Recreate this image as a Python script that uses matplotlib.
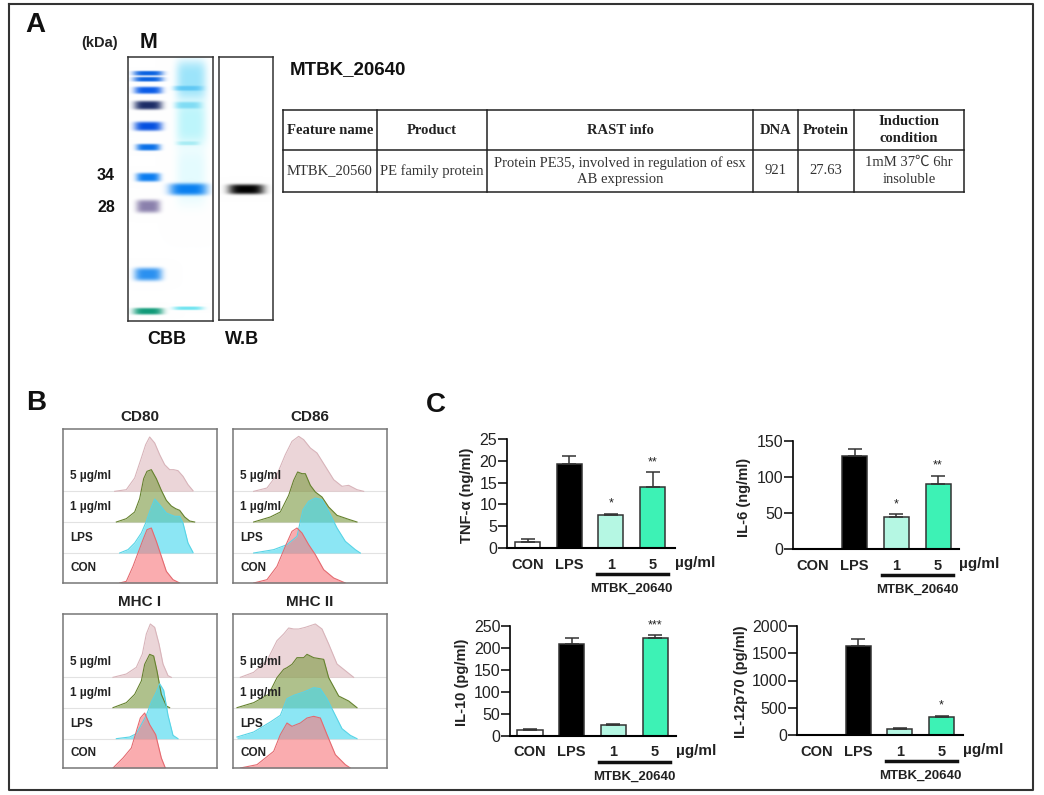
import numpy as np
import matplotlib
matplotlib.use('Agg')
import matplotlib.pyplot as plt

W, H = 1044, 795
plt.rcParams['font.family'] = ['Liberation Sans']

# gel bands: y pixel in the picture
marker_y = [73, 79, 90, 105, 126, 147, 177, 206, 274, 311]
marker_hw = [15, 15, 14, 14, 14, 12, 12, 12, 14, 15]
marker_hh = [2.4, 2.4, 3.6, 4.4, 4.6, 3.4, 4.4, 6.5, 6.5, 3.4]
marker_col = ['#0a62e0', '#0a62e0', '#0a5ce8', '#1c2c66', '#0550e0', '#0a70e8',
              '#0a7cf0', '#8a80ac', '#2a90f0', '#109a78']
sample_y = [189, 88, 105, 143, 308]
sample_hw = [19, 14, 13, 11, 15]
sample_hh = [6.0, 2.5, 3.5, 2.0, 1.8]
sample_col = ['#0a80f0', '#60c8f4', '#80dcf4', '#a8ecf4', '#70e4f0']
smear_y = [(60, 100), (100, 145), (145, 205)]
smear_col = ['#9ce4fa', '#bdf5fb', '#e4fbfe']

# table
table_cols = [283, 377, 487, 753, 798, 854, 964]
table_rows = [110, 150, 192]
table_head = ['Feature name', 'Product', 'RAST info', 'DNA', 'Protein', 'Induction\ncondition']
table_body = ['MTBK_20560', 'PE family protein',
              'Protein PE35, involved in regulation of esx\nAB expression',
              '921', '27.63', '1mM 37℃ 6hr\ninsoluble']

# flow histograms, read as (x, height) from the picture
cd80_5 = ([285, 320, 345, 365, 378, 390, 405, 420, 435, 450, 462, 475, 490, 505, 520],
          [0, 5, 40, 100, 140, 163, 145, 110, 80, 65, 65, 62, 45, 20, 2])
cd80_1 = ([290, 320, 345, 360, 372, 382, 395, 410, 425, 440, 455, 468, 480, 495, 510, 525],
          [0, 10, 30, 70, 130, 152, 157, 130, 95, 65, 48, 40, 35, 15, 3, 0])
cd80_lps = ([300, 325, 345, 365, 378, 392, 405, 420, 440, 465, 480, 490, 505, 520],
            [0, 10, 30, 60, 90, 130, 162, 145, 120, 110, 110, 90, 30, 2])
cd80_con = ([300, 320, 340, 355, 370, 382, 395, 410, 425, 440, 460, 480],
            [0, 5, 50, 90, 130, 160, 165, 125, 80, 35, 10, 0])
cd86_5 = ([700, 740, 770, 795, 815, 835, 850, 870, 890, 915, 940, 965, 985, 1010, 1030],
          [0, 10, 50, 110, 150, 165, 155, 130, 115, 75, 35, 15, 18, 5, 0])
cd86_1 = ([700, 750, 780, 805, 820, 832, 845, 855, 870, 885, 905, 925, 950, 985, 1010],
          [0, 15, 30, 80, 125, 150, 145, 145, 110, 90, 75, 45, 20, 8, 0])
cd86_lps = ([700, 760, 800, 830, 848, 865, 885, 905, 925, 950, 975, 1005, 1020],
            [0, 10, 25, 50, 130, 155, 165, 160, 125, 75, 35, 10, 0])
cd86_con = ([700, 740, 770, 795, 815, 830, 845, 865, 885, 910, 940, 975],
            [0, 10, 50, 110, 155, 165, 150, 115, 85, 40, 15, 0])
mhc1_5 = ([280, 320, 350, 368, 380, 392, 405, 418, 430, 445, 455],
          [0, 10, 30, 70, 130, 160, 150, 100, 40, 5, 0])
mhc1_1 = ([280, 320, 345, 365, 375, 390, 402, 412, 425, 440, 450],
          [0, 15, 40, 80, 130, 160, 155, 110, 40, 5, 0])
mhc1_lps = ([290, 330, 350, 380, 395, 410, 420, 432, 445, 460, 475],
            [0, 5, 15, 70, 110, 140, 165, 145, 70, 10, 0])
mhc1_con = ([280, 310, 335, 350, 362, 375, 390, 408, 425, 437],
            [0, 30, 60, 110, 150, 165, 130, 100, 30, 0])
mhc2_5 = ([660, 700, 740, 770, 790, 805, 820, 835, 855, 885, 905, 925, 950, 975, 1000],
          [0, 15, 50, 110, 130, 148, 145, 145, 150, 160, 145, 100, 40, 20, 0])
mhc2_1 = ([650, 700, 745, 770, 790, 800, 815, 830, 850, 860, 880, 910, 925, 955, 985, 1010],
          [0, 15, 40, 90, 115, 120, 130, 150, 150, 160, 150, 145, 90, 35, 20, 0])
mhc2_lps = ([650, 700, 750, 780, 800, 820, 850, 880, 900, 920, 945, 965, 990, 1010],
            [5, 20, 50, 70, 120, 130, 140, 153, 150, 120, 70, 30, 10, 0])
mhc2_con = ([660, 710, 760, 780, 800, 815, 840, 860, 880, 900, 920, 945, 975, 990],
            [0, 10, 50, 100, 135, 125, 135, 150, 155, 150, 100, 40, 10, 0])
track_labels = ['5 µg/ml', '1 µg/ml', 'LPS', 'CON']
track_fill = ['#dfbcc1', '#7f9c45', '#45d8ee', '#f87a7e']
track_edge = ['#d8b4ba', '#66822f', '#58d4e6', '#e46a70']

# cytokine bars
bar_labels = ['CON', 'LPS', '1', '5']
tnf_val = [1.3, 19.2, 7.6, 14.0]
tnf_top = [2.0, 21.1, 7.8, 17.4]
il6_val = [0, 129, 44, 90]
il6_top = [0, 139, 48, 102]
il10_val = [12, 210, 25, 222]
il10_top = [15, 223, 27, 229]
il12_val = [5, 1640, 105, 325]
il12_top = [8, 1770, 120, 355]
bar_col = ['white', 'black', '#b5f7e3', '#3df2b5']


def px_axes(fig, x0, y0, x1, y1):
    return fig.add_axes([x0 / W, 1 - y1 / H, (x1 - x0) / W, (y1 - y0) / H])


def add_band(img, x0, y0, xc, yc, hw, hh, col, sc=2):
    # soft blob multiplied into the gel image
    rgb = np.array(matplotlib.colors.to_rgb(col))
    yy, xx = np.mgrid[0:img.shape[0], 0:img.shape[1]]
    xx = x0 + xx / sc
    yy = y0 + yy / sc
    a = np.exp(-((yy - yc) / hh) ** 4) * np.exp(-((xx - xc) / hw) ** 4)
    img[:] = img * (1 - a[..., None]) + rgb * a[..., None]


fig = plt.figure(figsize=(W / 100, H / 100), dpi=100)

# --- panel A gels
gel = np.ones((528, 170, 3))
for (a, b), c in zip(smear_y, smear_col):
    add_band(gel, 128, 57, 191, (a + b) / 2, 15, (b - a) / 2, c)
for y, hw, hh, c in zip(sample_y, sample_hw, sample_hh, sample_col):
    add_band(gel, 128, 57, 188, y, hw, hh, c)
for y, hw, hh, c in zip(marker_y, marker_hw, marker_hh, marker_col):
    add_band(gel, 128, 57, 148, y, hw, hh, c)
ax = px_axes(fig, 128, 57, 213, 321)
ax.imshow(gel, aspect='auto')
ax.set_xticks([])
ax.set_yticks([])
for s in ax.spines.values():
    s.set_linewidth(1.1)
    s.set_color('#333333')

wb = np.ones((526, 108, 3))
add_band(wb, 219, 57, 246, 189, 18, 5, '#000000')
ax = px_axes(fig, 219, 57, 273, 320)
ax.imshow(wb, aspect='auto')
ax.set_xticks([])
ax.set_yticks([])
for s in ax.spines.values():
    s.set_linewidth(1.1)
    s.set_color('#333333')

# --- panel B histograms
hist_panels = [
    ('CD80', 63, 429, 130, [275, 183, 90, 0], [cd80_5, cd80_1, cd80_lps, cd80_con]),
    ('CD86', 233, 429, 638, [275, 183, 90, 0], [cd86_5, cd86_1, cd86_lps, cd86_con]),
    ('MHC I', 63, 614, 130, [272, 181, 88, 0], [mhc1_5, mhc1_1, mhc1_lps, mhc1_con]),
    ('MHC II', 233, 614, 638, [272, 181, 88, 0], [mhc2_5, mhc2_1, mhc2_lps, mhc2_con]),
]
for title, x0, y0, zleft, bases, tracks in hist_panels:
    ax = px_axes(fig, x0, y0, x0 + 154, y0 + 154)
    ax.set_xlim(zleft, zleft + 462)
    ax.set_ylim(0, 462)
    for i in range(4):
        xs, ys = tracks[i]
        top = np.array(ys) + bases[i]
        ax.fill_between(xs, bases[i], top, color=track_fill[i], alpha=0.62, lw=0)
        ax.plot(xs, top, color=track_edge[i], lw=0.8)
        if i < 3:
            ax.axhline(bases[i], color='#e2e2e2', lw=0.8, zorder=0)
        ax.text(zleft + 22, bases[i] + 45, track_labels[i], fontsize=8.5, fontweight='bold',
                color='#222222', va='center')
    ax.set_xticks([])
    ax.set_yticks([])
    for s in ax.spines.values():
        s.set_color('#777777')
        s.set_linewidth(1.1)
    ax.set_title(title, fontsize=11, fontweight='bold', color='#222222', pad=6)

# --- panel C bars
bar_panels = [
    ('TNF-α (ng/ml)', 507, 439, 675, 548, 527.5, 25, [0, 5, 10, 15, 20, 25], tnf_val, tnf_top,
     [None, None, '*', '**'], 467, 495),
    ('IL-6 (ng/ml)', 793, 441, 959, 549, 813, 150, [0, 50, 100, 150], il6_val, il6_top,
     [None, None, '*', '**'], 744, 497),
    ('IL-10 (pg/ml)', 510, 626, 676, 735.5, 530, 250, [0, 50, 100, 150, 200, 250], il10_val, il10_top,
     [None, None, None, '***'], 462, 682),
    ('IL-12p70 (pg/ml)', 797, 626, 963, 735, 816.5, 2000, [0, 500, 1000, 1500, 2000], il12_val, il12_top,
     [None, None, None, '*'], 741, 682),
]
for ylab, x0, y0, x1, y1, c0, ymax, yt, vals, tops, stars, ylab_x, ylab_y in bar_panels:
    ax = px_axes(fig, x0, y0, x1, y1)
    ax.patch.set_alpha(0)
    step = 41.7
    ax.set_xlim((x0 - c0) / step, (x1 - c0) / step)
    ax.set_ylim(0, ymax)
    pos = np.arange(4)
    err = np.array(tops) - np.array(vals)
    ax.bar(pos, vals, width=0.6, color=bar_col, edgecolor='#333333', linewidth=1.1)
    ax.errorbar(pos, vals, yerr=[np.zeros(4), err], fmt='none', ecolor='#333333',
                elinewidth=1.1, capsize=5, capthick=1.1)
    for p, t, s in zip(pos, tops, stars):
        if s:
            ax.annotate(s, (p, t), xytext=(0, 3), textcoords='offset points', ha='center',
                        va='bottom', fontsize=9, color='#222222', annotation_clip=False)
    ax.set_xticks(pos)
    ax.set_xticklabels(bar_labels, fontsize=10.5, fontweight='bold', color='#222222')
    ax.set_yticks(yt)
    ax.tick_params(axis='x', length=0, pad=7)
    ax.tick_params(axis='y', length=6.5, width=1.1, labelsize=11.5, pad=0.5, labelcolor='#222222')
    ax.spines['top'].set_visible(False)
    ax.spines['right'].set_visible(False)
    ax.spines['left'].set_linewidth(1.2)
    ax.spines['bottom'].set_linewidth(1.5)

# --- everything placed by picture pixels goes on an overlay
ov = fig.add_axes([0, 0, 1, 1])
ov.set_xlim(0, W)
ov.set_ylim(H, 0)
ov.axis('off')
ov.patch.set_alpha(0)
ov.plot([9, 1033, 1033, 9, 9], [4, 4, 790, 790, 4], color='#333333', lw=1.5)

for t, x, y in [('A', 25, 25), ('B', 26, 403), ('C', 426, 405)]:
    ov.text(x, y, t, fontsize=20, fontweight='bold', ha='left', va='center', color='#111111')
ov.text(100, 43, '(kDa)', fontsize=10.5, fontweight='bold', ha='center', va='center', color='#222222')
ov.text(149, 42, 'M', fontsize=15.5, fontweight='bold', ha='center', va='center', color='#111111')
ov.text(115, 176, '34', fontsize=11.5, fontweight='bold', ha='right', va='center', color='#111111')
ov.text(115, 208, '28', fontsize=11.5, fontweight='bold', ha='right', va='center', color='#111111')
ov.text(167, 339, 'CBB', fontsize=13, fontweight='bold', ha='center', va='center', color='#111111')
ov.text(242, 339, 'W.B', fontsize=13, fontweight='bold', ha='center', va='center', color='#111111')
ov.text(290, 70, 'MTBK_20640', fontsize=13.5, fontweight='bold', ha='left', va='center', color='#111111')

# table grid and text
for x in table_cols:
    ov.plot([x, x], [table_rows[0], table_rows[-1]], color='#222222', lw=1.1)
for y in table_rows:
    ov.plot([table_cols[0], table_cols[-1]], [y, y], color='#222222', lw=1.1)
for i in range(6):
    xc = (table_cols[i] + table_cols[i + 1]) / 2
    ov.text(xc, (table_rows[0] + table_rows[1]) / 2, table_head[i], fontsize=10.5, fontweight='bold',
            family=['Liberation Serif', 'Noto Sans CJK SC'], ha='center', va='center',
            color='#222222', linespacing=1.35)
    ov.text(xc, (table_rows[1] + table_rows[2]) / 2, table_body[i], fontsize=10.5,
            family=['Liberation Serif', 'Noto Sans CJK SC'], ha='center', va='center',
            color='#333333', linespacing=1.35)

# y labels, units and group bars under panel C
for ylab, x0, y0, x1, y1, c0, ymax, yt, vals, tops, stars, ylab_x, ylab_y in bar_panels:
    ov.text(ylab_x, ylab_y, ylab, fontsize=10.5, fontweight='bold', rotation=90,
            ha='center', va='center', color='#222222')
    ov.text(x1, y1 + 15, 'µg/ml', fontsize=11, fontweight='bold', ha='left', va='center', color='#222222')
    ov.plot([c0 + 83.4 - 14, c0 + 125.1 + 15], [y1 + 26, y1 + 26], color='#111111', lw=2.5)
    ov.text(c0 + 104, y1 + 41, 'MTBK_20640', fontsize=9.5, fontweight='bold', ha='center', va='center', color='#222222')

fig.savefig('out.png', dpi=100)
